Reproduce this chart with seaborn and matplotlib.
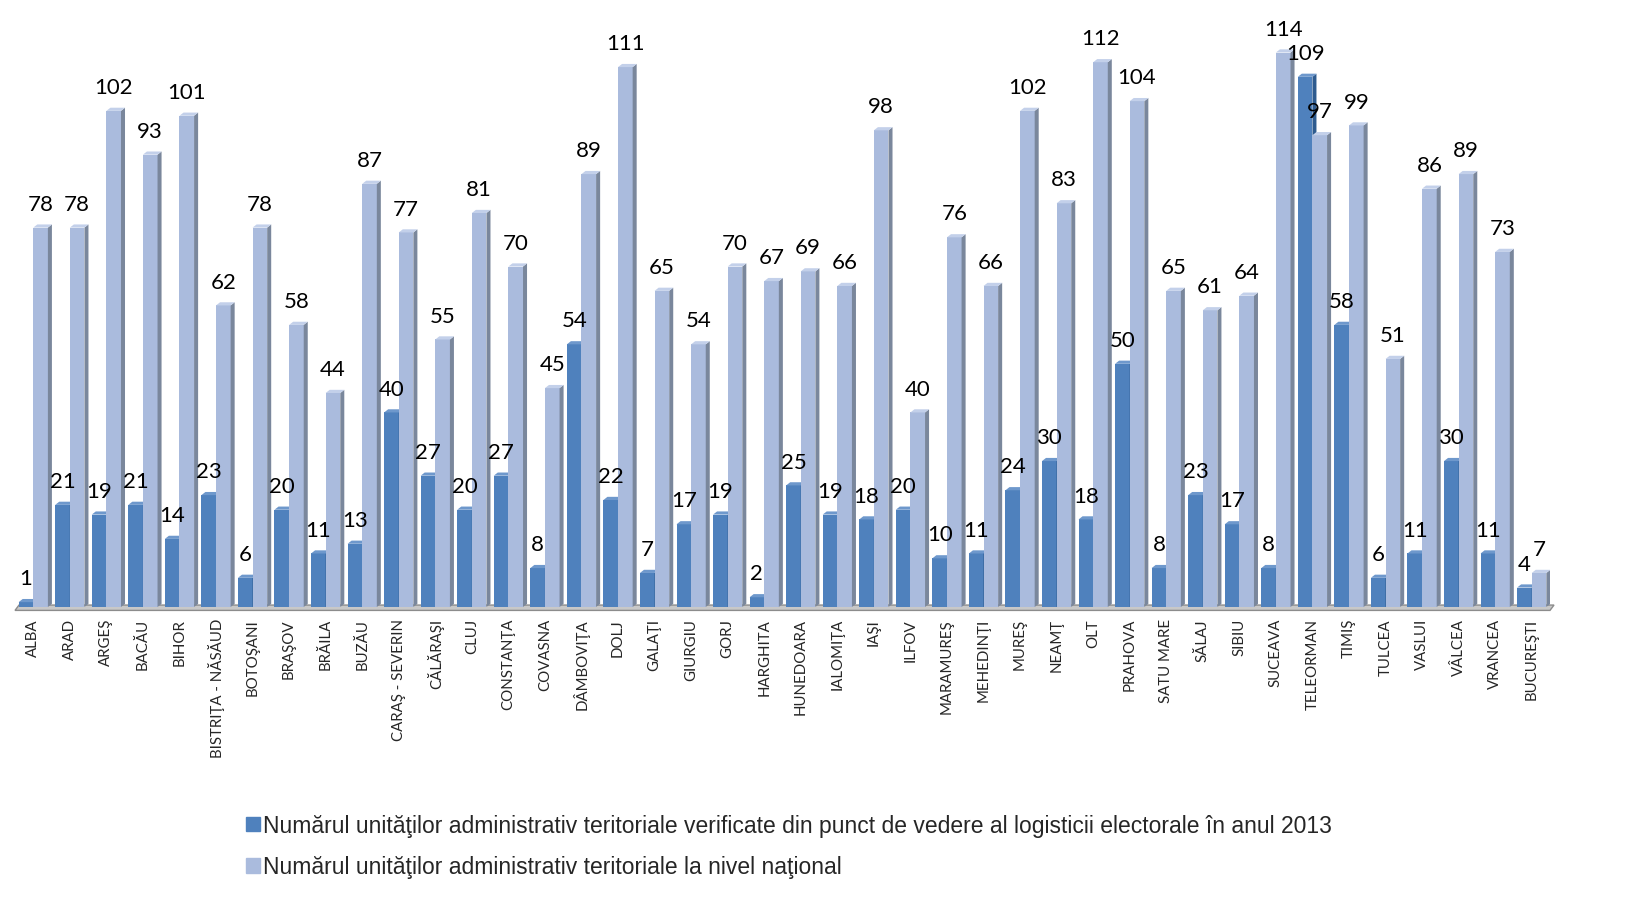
import matplotlib
matplotlib.use("Agg")
import matplotlib.pyplot as plt
import seaborn as sns
import pandas as pd
from matplotlib.patches import Polygon, Patch

# date
judete = ["ALBA", "ARAD", "ARGEŞ", "BACĂU", "BIHOR", "BISTRIŢA - NĂSĂUD", "BOTOŞANI",
          "BRAŞOV", "BRĂILA", "BUZĂU", "CARAŞ - SEVERIN", "CĂLĂRAŞI", "CLUJ", "CONSTANŢA",
          "COVASNA", "DÂMBOVIŢA", "DOLJ", "GALAŢI", "GIURGIU", "GORJ", "HARGHITA",
          "HUNEDOARA", "IALOMIŢA", "IAŞI", "ILFOV", "MARAMUREŞ", "MEHEDINŢI", "MUREŞ",
          "NEAMŢ", "OLT", "PRAHOVA", "SATU MARE", "SĂLAJ", "SIBIU", "SUCEAVA",
          "TELEORMAN", "TIMIŞ", "TULCEA", "VASLUI", "VÂLCEA", "VRANCEA", "BUCUREŞTI"]
verificate = [1, 21, 19, 21, 14, 23, 6, 20, 11, 13, 40, 27, 20, 27, 8, 54, 22, 7, 17, 19,
              2, 25, 19, 18, 20, 10, 11, 24, 30, 18, 50, 8, 23, 17, 8, 109, 58, 6, 11, 30,
              11, 4]
national = [78, 78, 102, 93, 101, 62, 78, 58, 44, 87, 77, 55, 81, 70, 45, 89, 111, 65, 54,
            70, 67, 69, 66, 98, 40, 76, 66, 102, 83, 112, 104, 65, 61, 64, 114, 97, 99, 51,
            86, 89, 73, 7]
serii = ["Numărul unităţilor administrativ teritoriale verificate din punct de vedere al logisticii electorale în anul 2013",
         "Numărul unităţilor administrativ teritoriale la nivel naţional"]

df = pd.DataFrame({
    "judet": judete * 2,
    "valoare": verificate + national,
    "serie": [serii[0]] * len(judete) + [serii[1]] * len(judete),
})

culori = ["#4F81BD", "#AABBDD"]
laterale = ["#2E5B8F", "#7A879C"]
sus = ["#6E98CC", "#C3D0EA"]

sns.set_style("white")
fig = plt.figure(figsize=(16.36, 9.2), dpi=100)
ax = fig.add_axes([15 / 1636, (920 - 608) / 920, (1550 - 15) / 1636, 608 / 920])

sns.barplot(data=df, x="judet", y="valoare", hue="serie", palette=culori,
            saturation=1, width=0.8, gap=0, legend=False, ax=ax)

ax.set_ylim(0, 125)

# efect 3D: fata laterala + capac
dx, dy = 0.11, 0.65
for k, cont in enumerate(ax.containers):
    for p in cont:
        p.set_zorder(2 + k)
        p.set_edgecolor("none")
        x0 = p.get_x()
        x1 = x0 + p.get_width()
        h = p.get_height()
        ax.add_patch(Polygon([(x1, 0), (x1, h), (x1 + dx, h + dy), (x1 + dx, dy)],
                             closed=True, fc=laterale[k], ec="none", zorder=2 + k))
        ax.add_patch(Polygon([(x0, h), (x1, h), (x1 + dx, h + dy), (x0 + dx, h + dy)],
                             closed=True, fc=sus[k], ec="none", zorder=2 + k))
    ax.bar_label(cont, padding=10, fontsize=16, family="Lato", color="black", zorder=10)

# podea
xl = ax.get_xlim()
ax.add_patch(Polygon([(xl[0], -0.7), (xl[1], -0.7), (xl[1] + dx, 0.4), (xl[0] + dx, 0.4)],
                     closed=True, fc="#C8C8C8", ec="#8C8C8C", lw=1, zorder=1.5, clip_on=False))

sns.despine(ax=ax, left=True, bottom=True)
ax.set_xlabel("")
ax.set_ylabel("")
ax.set_yticks([])
ax.tick_params(axis="x", length=0, pad=8)
plt.setp(ax.get_xticklabels(), rotation=90, fontsize=10.8, family="Lato")

handles = [Patch(color=culori[0]), Patch(color=culori[1])]
fig.legend(handles, serii, loc="upper left", bbox_to_anchor=(246 / 1636, 1 - 815 / 920),
           frameon=False, prop={"family": "Liberation Sans", "size": 16.5},
           handlelength=0.6, handleheight=0.6, handletextpad=0.15, labelspacing=0.8,
           borderpad=0, borderaxespad=0)

fig.savefig("out.png", dpi=100)
